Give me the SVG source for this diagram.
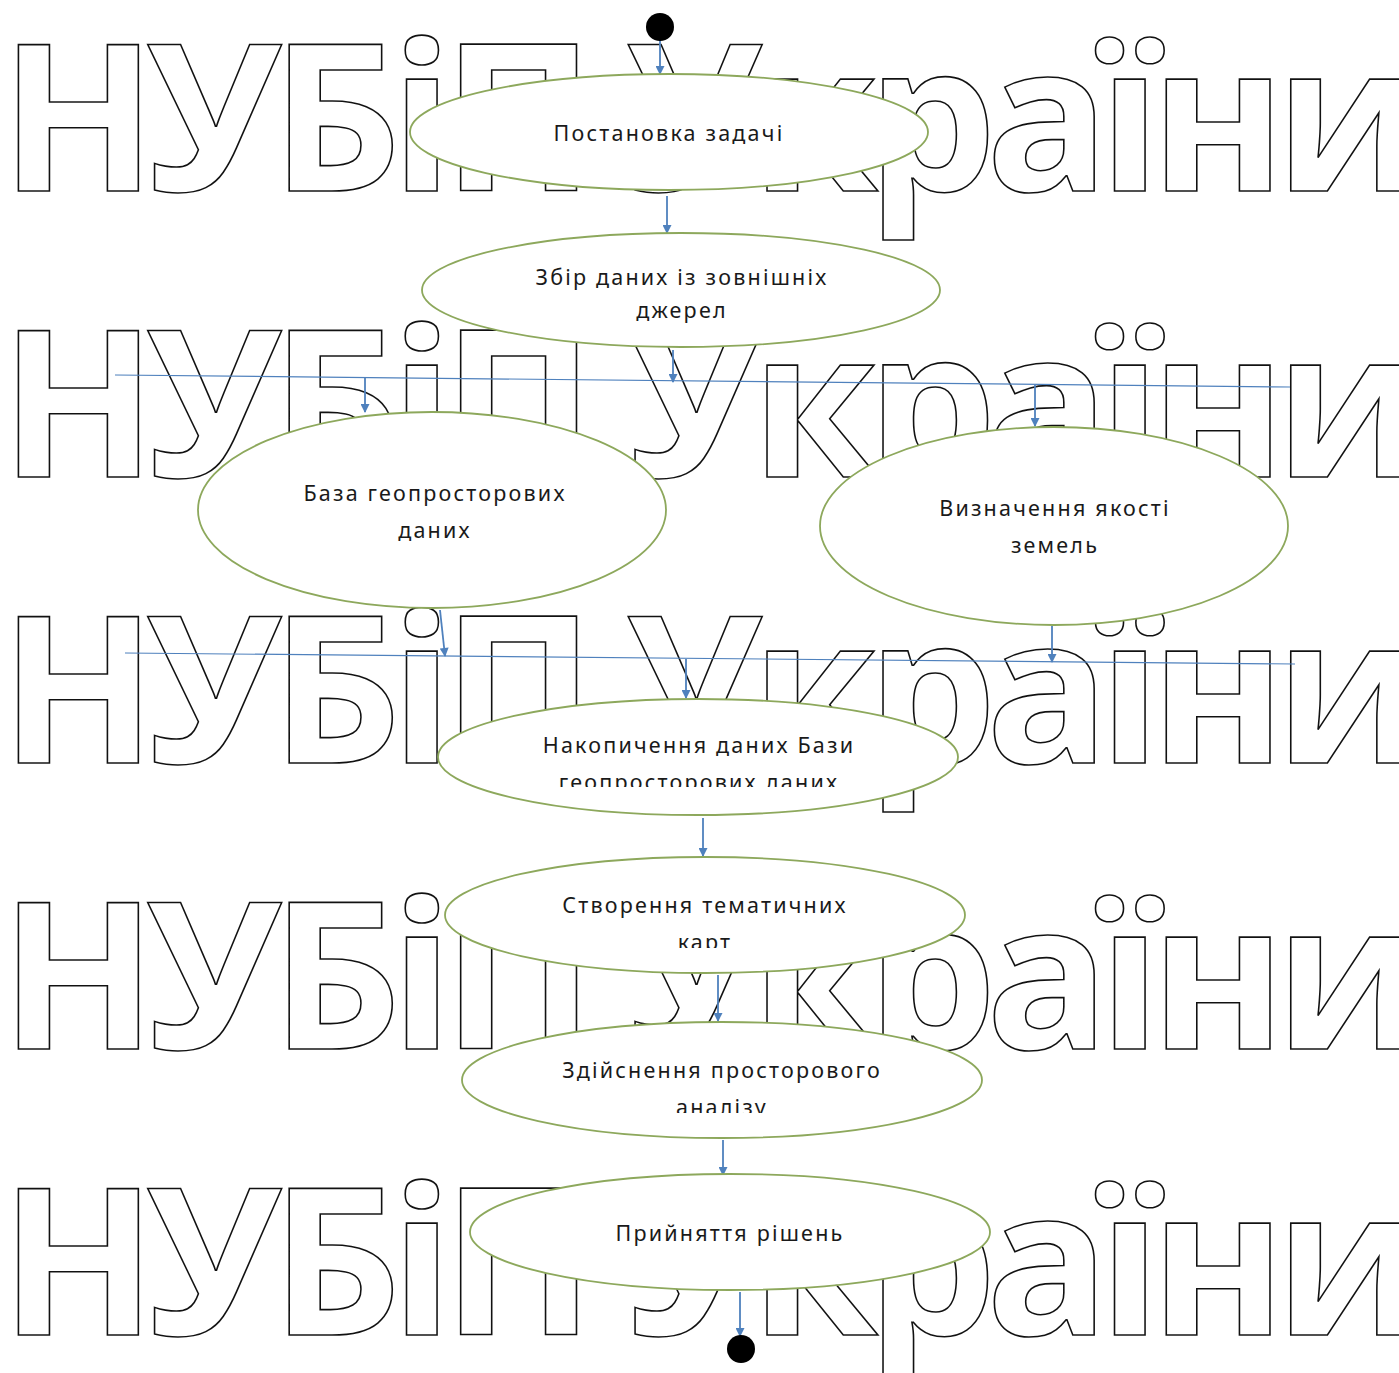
<svg xmlns="http://www.w3.org/2000/svg" width="1399" height="1373" viewBox="0 0 1399 1373">
<defs>
<style>
.wm{font-family:"Open Sans","Noto Sans",sans-serif;font-weight:700;font-size:205px;letter-spacing:-11px;fill:#fff;stroke:#111;stroke-width:1.6}
.el{fill:#fff;stroke:#8DA85C;stroke-width:1.8}
.lb{font-family:"Noto Sans","Open Sans",sans-serif;font-size:21.5px;letter-spacing:2.2px;fill:#1a1a1a;text-anchor:middle}
.cn{stroke:#4F81BD;stroke-width:1.8;fill:none}
.bar{stroke:#4F81BD;stroke-width:1.2;fill:none}
</style>
<marker id="ah" viewBox="0 0 10 10" refX="9" refY="5" markerWidth="10" markerHeight="9" orient="auto" markerUnits="userSpaceOnUse">
<path d="M0,0 L10,5 L0,10 z" fill="#4F81BD"/>
</marker>
<clipPath id="c5"><rect x="400" y="700" width="600" height="87"/></clipPath>
<clipPath id="c6"><rect x="400" y="860" width="600" height="88"/></clipPath>
<clipPath id="c7"><rect x="400" y="1020" width="600" height="93"/></clipPath>
</defs>
<rect width="1399" height="1373" fill="#fff"/>
<g id="watermark">
<text class="wm" x="0" y="191">НУБіП України</text>
<text class="wm" x="0" y="477">НУБіП України</text>
<text class="wm" x="0" y="763">НУБіП України</text>
<text class="wm" x="0" y="1049">НУБіП України</text>
<text class="wm" x="0" y="1335">НУБіП України</text>
</g>
<g id="connectors">
<line class="bar" x1="115" y1="375" x2="1290" y2="387"/>
<line class="bar" x1="125" y1="653" x2="1295" y2="664"/>
<line class="cn" x1="660" y1="40" x2="660" y2="74" marker-end="url(#ah)"/>
<line class="cn" x1="667" y1="196" x2="667" y2="233" marker-end="url(#ah)"/>
<line class="cn" x1="673" y1="350" x2="673" y2="382" marker-end="url(#ah)"/>
<line class="cn" x1="365" y1="378" x2="365" y2="412" marker-end="url(#ah)"/>
<line class="cn" x1="1035" y1="385" x2="1035" y2="426" marker-end="url(#ah)"/>
<line class="cn" x1="440" y1="610" x2="445" y2="656" marker-end="url(#ah)"/>
<line class="cn" x1="1052" y1="626" x2="1052" y2="662" marker-end="url(#ah)"/>
<line class="cn" x1="686" y1="659" x2="686" y2="698" marker-end="url(#ah)"/>
<line class="cn" x1="703" y1="818" x2="703" y2="856" marker-end="url(#ah)"/>
<line class="cn" x1="718" y1="975" x2="718" y2="1021" marker-end="url(#ah)"/>
<line class="cn" x1="723" y1="1140" x2="723" y2="1175" marker-end="url(#ah)"/>
<line class="cn" x1="740" y1="1292" x2="740" y2="1336" marker-end="url(#ah)"/>
</g>
<g id="start"><circle cx="660" cy="27" r="14" fill="#000"/></g>
<g id="n1"><ellipse class="el" cx="669" cy="132" rx="259" ry="58"/><text class="lb" x="669" y="141">Постановка задачі</text></g>
<g id="n2"><ellipse class="el" cx="681" cy="290" rx="259" ry="57"/><text class="lb" x="682" y="285">Збір даних із зовнішніх</text><text class="lb" x="682" y="318">джерел</text></g>
<g id="n3"><ellipse class="el" cx="432" cy="510" rx="234" ry="98"/><text class="lb" x="435" y="501">База геопросторових</text><text class="lb" x="435" y="538">даних</text></g>
<g id="n4"><ellipse class="el" cx="1054" cy="526" rx="234" ry="99"/><text class="lb" x="1055" y="516">Визначення якості</text><text class="lb" x="1055" y="553">земель</text></g>
<g id="n5"><ellipse class="el" cx="698" cy="757" rx="260" ry="58"/><g clip-path="url(#c5)"><text class="lb" x="699" y="753">Накопичення даних Бази</text><text class="lb" x="699" y="790">геопросторових даних</text></g></g>
<g id="n6"><ellipse class="el" cx="705" cy="915" rx="260" ry="58"/><g clip-path="url(#c6)"><text class="lb" x="705" y="913">Створення тематичних</text><text class="lb" x="705" y="950">карт</text></g></g>
<g id="n7"><ellipse class="el" cx="722" cy="1080" rx="260" ry="58"/><g clip-path="url(#c7)"><text class="lb" x="722" y="1078">Здійснення просторового</text><text class="lb" x="722" y="1115">аналізу</text></g></g>
<g id="n8"><ellipse class="el" cx="730" cy="1232" rx="260" ry="58"/><text class="lb" x="730" y="1241">Прийняття рішень</text></g>
<g id="end"><circle cx="741" cy="1349" r="14" fill="#000"/></g>
</svg>
